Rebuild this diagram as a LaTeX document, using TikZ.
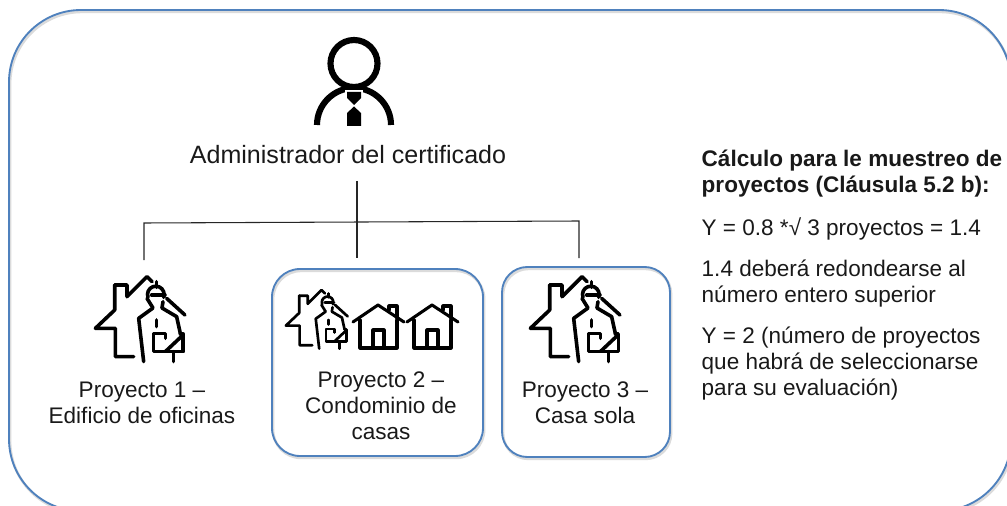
\documentclass[tikz,border=0pt]{standalone}
\usepackage{fontspec}
\setmainfont{Liberation Sans}
\definecolor{framecol}{HTML}{4F81BD}
\tikzset{
	frame/.style={draw=framecol,line width=1.4pt,rounded corners=#1,
		preaction={draw=black!14,line width=2pt,transform canvas={xshift=0.8pt,yshift=-1.4pt}}},
	icon/.style={line cap=round,line join=round},
	caption/.style={align=center,font=\fontsize{16.9pt}{19.5pt}\selectfont,text=black!90},
	note/.style={anchor=west,align=left,font=\fontsize{16.9pt}{19.5pt}\selectfont,text=black!90},
	branch/.style={draw=black!85,line width=0.8pt}
}
% house with inspector, traced in zoom pixels
\tikzset{inspector/.pic={
	\draw[icon] (-97,-75)--(-60,-75)--(-60,-40)--(0,-100)--(15,-85);
	\draw[icon] (-97,-75)--(-97,0)--(-155,55)--(-95,55)--(-95,140)--(-40,140);
	\draw[icon] (3,-38) arc (160:380:25);
	\draw[icon] (14,-45)--(54,-45);
	\draw[icon] (29,-85)--(29,-68);
	\draw[icon] (59,-35)--(114,15);
	\draw[icon] (0,-35)--(18,-6)--(-25,25)--(-10,155);
	\draw[icon] (48,-25)--(45,-6)--(89,20)--(100,70);
	\draw[icon] (29,30)--(29,50);
	\draw[icon] (56,85)--(56,70)--(19,70)--(19,125)--(109,125)--(109,72)--(100,72);
	\draw[icon] (55,125)--(105,78);
	\draw[icon] (79,125)--(79,155);
}}
\tikzset{smallhouse/.pic={
	\draw[icon] (-25,-6)--(0,-23)--(26,-6);
	\draw[icon] (-18,-8)--(-18,20)--(19,20)--(19,-8);
	\draw[icon] (-5,20)--(-5,2)--(6,2)--(6,20);
	\draw[icon] (11,-18)--(11,-22)--(19,-22)--(19,-10);
}}
\begin{document}
\begin{tikzpicture}[x=0.75pt,y=-0.75pt]
	\useasboundingbox (0,0) rectangle (1007,506);
	\begin{scope}
	\clip (0,0) rectangle (1007,506);
	\draw[frame=54pt] (9,10) rectangle (1011,511);
	\end{scope}
	% head of the tree
	\draw[black,line width=4.6pt] (354,63.5) circle (23.5);
	\draw[black,line width=4.6pt] (317,125) arc (180:360:37);
	\fill[white] (345,90)--(363,90)--(363,127)--(345,127)--cycle;
	\fill[black] (347,92)--(361,92)--(361,98)--(354,105)--(347,98)--cycle;
	\fill[black] (354,106.5)--(361,113)--(361,126)--(347,126)--(347,113)--cycle;
	\node[caption,font=\fontsize{18.8pt}{22pt}\selectfont] (admin) at (348,155) {Administrador del certificado};
	% tree
	\coordinate (rootend) at (357,181);
	\coordinate (midjoin) at (357,222);
	\coordinate (leftjoin) at (144,223);
	\coordinate (rightjoin) at (579,221);
	\coordinate (leftend) at (144,260);
	\coordinate (midend) at (357,258);
	\coordinate (rightend) at (579,258);
	\draw[branch] (rootend)--(midjoin)--(midend);
	\draw[branch] (leftend)--(leftjoin)--(rightjoin)--(rightend);
	% boxes
	\draw[frame=21pt] (272,269) rectangle (483,456);
	\draw[frame=19pt] (502,267) rectangle (670,457);
	% icons
	\pic[scale=0.333,line width=2.7pt] at (147,310) {inspector};
	\pic[scale=0.333,line width=2.7pt] at (582,310) {inspector};
	\pic[scale=0.23,line width=2pt] at (321.5,313) {inspector};
	\pic[line width=2.3pt] at (378,328) {smallhouse};
	\pic[line width=2.3pt] at (432,328) {smallhouse};
	% captions
	\node[caption] (p1) at (142,403) {Proyecto 1 –\\Edificio de oficinas};
	\node[caption] (p2) at (381,406) {Proyecto 2 –\\Condominio de\\casas};
	\node[caption] (p3) at (585,403) {Proyecto 3 –\\Casa sola};
	% notes
	\node[note,font=\fontsize{16.9pt}{19.5pt}\selectfont\bfseries] (n1) at (697,174) {Cálculo para le muestreo de\\proyectos (Cláusula 5.2 b):};
	\node[note] (n2) at (697,229) {Y = 0.8 *√ 3 proyectos = 1.4};
	\node[note] (n3) at (697,284) {1.4 deberá redondearse al\\número entero superior};
	\node[note] (n4) at (697,364) {Y = 2 (número de proyectos\\que habrá de seleccionarse\\para su evaluación)};
\end{tikzpicture}
\end{document}
